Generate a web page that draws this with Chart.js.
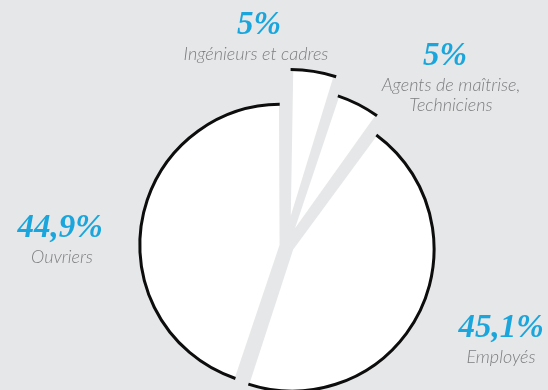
<!DOCTYPE html>
<html>
<head>
<meta charset="utf-8">
<script src="https://cdn.jsdelivr.net/npm/chart.js@4.4.1/dist/chart.umd.min.js"></script>
<style>
    html, body { margin: 0; padding: 0; background: #e6e7e8; overflow: hidden; }
    #wrap { position: relative; width: 548px; height: 390px; }
</style>
</head>
<body>
<div id="wrap"><canvas id="canvas1"></canvas></div>
<script>
// data (clockwise from 12 o'clock)
const categories = ['Ingénieurs et cadres', 'Agents de maîtrise, Techniciens', 'Employés', 'Ouvriers'];
const nameLines = [['Ingénieurs et cadres'], ['Agents de maîtrise,', 'Techniciens'], ['Employés'], ['Ouvriers']];
const shares = [5, 5, 45.1, 44.9];
const shareLabels = ['5%', '5%', '45,1%', '44,9%'];

// layout only: how far each slice is pulled out, and where its label sits
const pullOut = [94, 52, 28, 22];
const labelAt = [[259, 34, 256], [445, 65, 451], [501, 337, 501], [60, 237, 62]];

const BG = '#e6e7e8';

const outline = {
    id: 'outline',
    afterDatasetsDraw(chart) {
        const ctx = chart.ctx;
        chart.getDatasetMeta(0).data.forEach(arc => {
            const p = arc.getProps(['x', 'y', 'startAngle', 'endAngle', 'outerRadius', 'circumference']);
            const t = (arc.options.offset || 0) / 4;
            const mid = (p.startAngle + p.endAngle) / 2;
            const r = p.outerRadius + t * (1 - Math.sin(Math.min(Math.PI, p.circumference)));
            ctx.save();
            ctx.translate(Math.cos(mid) * t, Math.sin(mid) * t);
            ctx.beginPath();
            ctx.arc(p.x, p.y, r, p.startAngle + 0.006, p.endAngle - 0.006);
            ctx.strokeStyle = '#0d0d0d';
            ctx.lineWidth = 3;
            ctx.stroke();
            ctx.restore();
        });
    }
};

const labels = {
    id: 'labels',
    afterDraw(chart) {
        const ctx = chart.ctx;
        ctx.save();
        ctx.textAlign = 'center';
        ctx.textBaseline = 'alphabetic';
        labelAt.forEach((pos, i) => {
            ctx.font = 'italic bold 33px "Liberation Serif"';
            ctx.fillStyle = '#1aa6dc';
            ctx.fillText(shareLabels[i], pos[0], pos[1]);
            ctx.font = 'italic 300 18px Lato';
            ctx.fillStyle = '#7d7e81';
            nameLines[i].forEach((ln, k) => ctx.fillText(ln, pos[2], pos[1] + 26 + k * 20));
        });
        ctx.restore();
    }
};

const data = {
    labels: categories,
    datasets: [{
        data: shares,
        backgroundColor: '#ffffff',
        borderColor: BG,
        borderWidth: 2,
        hoverBorderWidth: 2,
        offset: pullOut,
        hoverOffset: 0,
        radius: 137,
        clip: false
    }]
};

const config = {
    type: 'pie',
    data: data,
    options: {
        animation: false,
        responsive: true,
        maintainAspectRatio: false,
        events: [],
        layout: { padding: { left: 24, right: 0, top: 102, bottom: 0 } },
        plugins: {
            legend: { display: false },
            tooltip: { enabled: false }
        }
    },
    plugins: [outline, labels]
};

new Chart(document.getElementById('canvas1'), config);
</script>
</body>
</html>
